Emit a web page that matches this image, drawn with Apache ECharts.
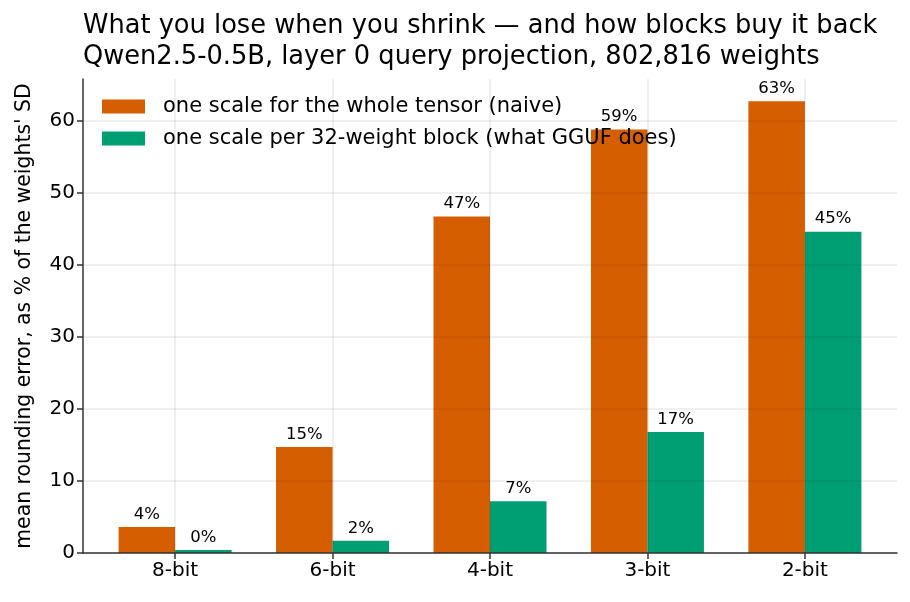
<!DOCTYPE html>
<html>
<head>
<meta charset="utf-8">
<script src="https://cdn.jsdelivr.net/npm/echarts@6/dist/echarts.min.js"></script>
<style>
  html, body { margin: 0; padding: 0; background: #fff; }
  #chart { width: 910px; height: 602px; }
</style>
</head>
<body>
<div id="chart"></div>
<script>
// bit widths on the x axis
const categories = ['8-bit', '6-bit', '4-bit', '3-bit', '2-bit'];
// mean rounding error as % of weight SD
const naive = [3.6, 14.7, 46.7, 58.8, 62.7];
const blockwise = [0.4, 1.7, 7.2, 16.8, 44.6];
const yTicks = [0, 10, 20, 30, 40, 50, 60];

const seriesNames = [
  'one scale for the whole tensor (naive)',
  'one scale per 32-weight block (what GGUF does)'
];

const font = 'DejaVu Sans';
const positions = categories.map((c, i) => i);

function pairs(vals) {
  return vals.map((v, i) => [i, v]);
}

const barLabel = {
  show: true,
  position: 'top',
  distance: 4,
  fontFamily: font,
  fontSize: 16.5,
  color: '#000',
  formatter: p => Math.round(p.value[1]) + '%'
};

const chart = echarts.init(document.getElementById('chart'));
chart.setOption({
  animation: false,
  backgroundColor: '#fff',
  title: {
    text: 'What you lose when you shrink — and how blocks buy it back\nQwen2.5-0.5B, layer 0 query projection, 802,816 weights',
    left: 83,
    top: 11,
    padding: 0,
    textStyle: {
      fontFamily: font,
      fontSize: 25.7,
      fontWeight: 'normal',
      color: '#000',
      lineHeight: 31
    }
  },
  legend: {
    orient: 'vertical',
    left: 102,
    top: 96,
    padding: 0,
    itemWidth: 43,
    itemHeight: 14,
    itemGap: 11,
    icon: 'rect',
    textStyle: {
      fontFamily: font,
      fontSize: 21,
      color: '#000',
      padding: [0, 0, 0, 13]
    },
    data: seriesNames
  },
  grid: { left: 83, right: 13, top: 79, bottom: 49 },
  xAxis: {
    type: 'value',
    min: -0.585,
    max: 4.585,
    z: 5,
    axisLine: { show: true, onZero: false, lineStyle: { color: '#333', width: 1.5 } },
    axisTick: {
      show: true,
      customValues: positions,
      length: 6,
      lineStyle: { color: '#333', width: 1.5 }
    },
    axisLabel: {
      customValues: positions,
      fontFamily: font,
      fontSize: 20,
      color: '#000',
      margin: 8,
      formatter: v => categories[Math.round(v)]
    },
    splitLine: { show: true, lineStyle: { color: 'rgba(0,0,0,0.08)', width: 1.5 } }
  },
  yAxis: {
    type: 'value',
    min: 0,
    max: 65.8,
    interval: 10,
    z: 5,
    name: "mean rounding error, as % of the weights' SD",
    nameLocation: 'middle',
    nameRotate: 90,
    nameGap: 48,
    nameTextStyle: { fontFamily: font, fontSize: 20.4, color: '#000' },
    axisLine: { show: true, onZero: false, lineStyle: { color: '#333', width: 1.5 } },
    axisTick: {
      show: true,
      customValues: yTicks,
      length: 6,
      lineStyle: { color: '#333', width: 1.5 }
    },
    axisLabel: {
      customValues: yTicks,
      fontFamily: font,
      fontSize: 20,
      color: '#000',
      margin: 8
    },
    splitLine: { show: true, lineStyle: { color: 'rgba(0,0,0,0.08)', width: 1.5 } }
  },
  series: [
    {
      name: seriesNames[0],
      type: 'bar',
      data: pairs(naive),
      barWidth: 56.5,
      barGap: '0%',
      itemStyle: { color: '#D55E00' },
      label: barLabel
    },
    {
      name: seriesNames[1],
      type: 'bar',
      data: pairs(blockwise),
      barWidth: 56.5,
      barGap: '0%',
      itemStyle: { color: '#009E73' },
      label: barLabel
    }
  ]
});
</script>
</body>
</html>
